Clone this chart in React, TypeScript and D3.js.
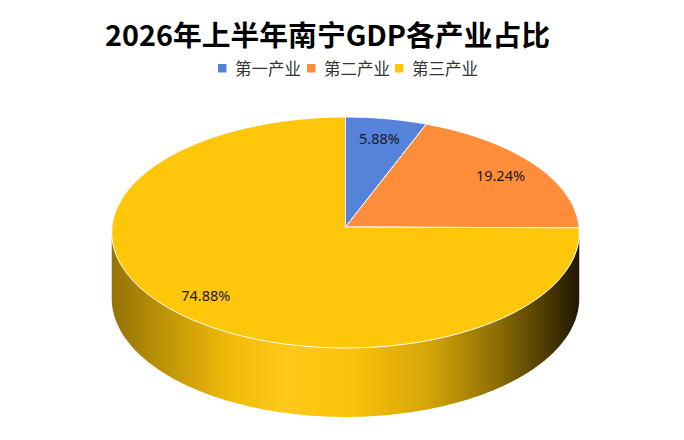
import React from 'react';
import * as d3 from 'd3';

const title = '2026年上半年南宁GDP各产业占比';
const categories = ['第一产业', '第二产业', '第三产业'];
const shares = [5.88, 19.24, 74.88];
const labels = ['5.88%', '19.24%', '74.88%'];
const colors = ['#5683DA', '#FF8D3A', '#FFC60A'];

const W = 684;
const H = 440;
// projection of the tilted disk (perspective)
const cx = 345.5;
const cy = 227;
const A = 115.2;
const B = 233.5;
const K = 0.0476;
const D = 65.7;

function proj(theta: number, r: number, h: number): [number, number] {
  const u = r * Math.sin(theta);
  const v = r * Math.cos(theta);
  const s = 1 / (1 + K * v);
  return [cx + B * u * s, cy - A * v * s + h * D * s];
}

function sampleAngles(a: number, b: number): number[] {
  const n = Math.max(2, Math.ceil(Math.abs(b - a) / (Math.PI / 360)));
  return d3.range(n + 1).map((i) => a + ((b - a) * i) / n);
}

// silhouette angles
const grid = d3.range(0, 2 * Math.PI, Math.PI / 1800);
const thetaR = grid[d3.maxIndex(grid, (t) => proj(t, 1, 0)[0])];
const thetaL = grid[d3.minIndex(grid, (t) => proj(t, 1, 0)[0])];
const xMin = proj(thetaL, 1, 0)[0];
const xMax = proj(thetaR, 1, 0)[0];

const sideStops: [number, number][] = [
  [0, -0.42],
  [0.25, -0.06],
  [0.376, 0.06],
  [0.517, -0.02],
  [0.68, -0.17],
  [0.83, -0.46],
  [1, -0.88],
];

function shade(c: string, t: number): string {
  return t >= 0 ? d3.interpolateRgb(c, '#fff')(t) : d3.interpolateRgb(c, '#000')(-t);
}

export default function App() {
  const pie = d3.pie<number>().sort(null).value((d) => d);
  const arcs = pie(shares);

  const line = d3.line<[number, number]>();

  const tops = arcs.map((a) => {
    const pts: [number, number][] = [[cx, cy], ...sampleAngles(a.startAngle, a.endAngle).map((t) => proj(t, 1, 0))];
    return line(pts) + 'Z';
  });

  const sides = arcs.map((a) => {
    const s = Math.max(a.startAngle, thetaR);
    const e = Math.min(a.endAngle, thetaL);
    if (e <= s) return null;
    const angs = sampleAngles(s, e);
    const pts: [number, number][] = [
      ...angs.map((t) => proj(t, 1, 0)),
      ...angs.slice().reverse().map((t) => proj(t, 1, 1)),
    ];
    return line(pts) + 'Z';
  });

  const labelPos = arcs.map((a) => proj((a.startAngle + a.endAngle) / 2, 0.82, 0));

  const legendX = [218, 307, 395];

  return (
    <svg
      width={W}
      height={H}
      viewBox={`0 0 ${W} ${H}`}
      style={{ position: 'absolute', left: 0, top: 0, background: '#fff' }}
    >
      <defs>
        {colors.map((c, i) => (
          <linearGradient key={i} id={`side${i}`} gradientUnits="userSpaceOnUse" x1={xMin} x2={xMax} y1={0} y2={0}>
            {sideStops.map(([o, t], j) => (
              <stop key={j} offset={o} stopColor={shade(c, t)} />
            ))}
          </linearGradient>
        ))}
      </defs>
      <rect x={0} y={0} width={W} height={H} fill="#fff" />
      <text
        x={327.5}
        y={46}
        textAnchor="middle"
        fontFamily="'Noto Sans CJK SC', 'Noto Sans', sans-serif"
        fontWeight="bold"
        fontSize={28}
        textLength={445}
        lengthAdjust="spacingAndGlyphs"
        fill="#000"
      >
        {title}
      </text>
      {categories.map((c, i) => (
        <g key={c}>
          <rect x={legendX[i]} y={64} width={8.5} height={8.5} fill={colors[i]} />
          <text
            x={legendX[i] + 17}
            y={75}
            fontFamily="'Noto Sans CJK SC', sans-serif"
            fontSize={16.5}
            fill="#333"
          >
            {c}
          </text>
        </g>
      ))}
      {sides.map((p, i) =>
        p ? <path key={i} d={p} fill={`url(#side${i})`} stroke="none" /> : null
      )}
      {tops.map((p, i) => (
        <path key={i} d={p} fill={colors[i]} stroke="#fff" strokeWidth={1} strokeLinejoin="round" />
      ))}
      {labels.map((l, i) => (
        <text
          key={l}
          x={labelPos[i][0]}
          y={labelPos[i][1]}
          textAnchor="middle"
          dominantBaseline="central"
          fontFamily="'Noto Sans', sans-serif"
          fontSize={14.5}
          fill="#1a1a1a"
        >
          {l}
        </text>
      ))}
    </svg>
  );
}
